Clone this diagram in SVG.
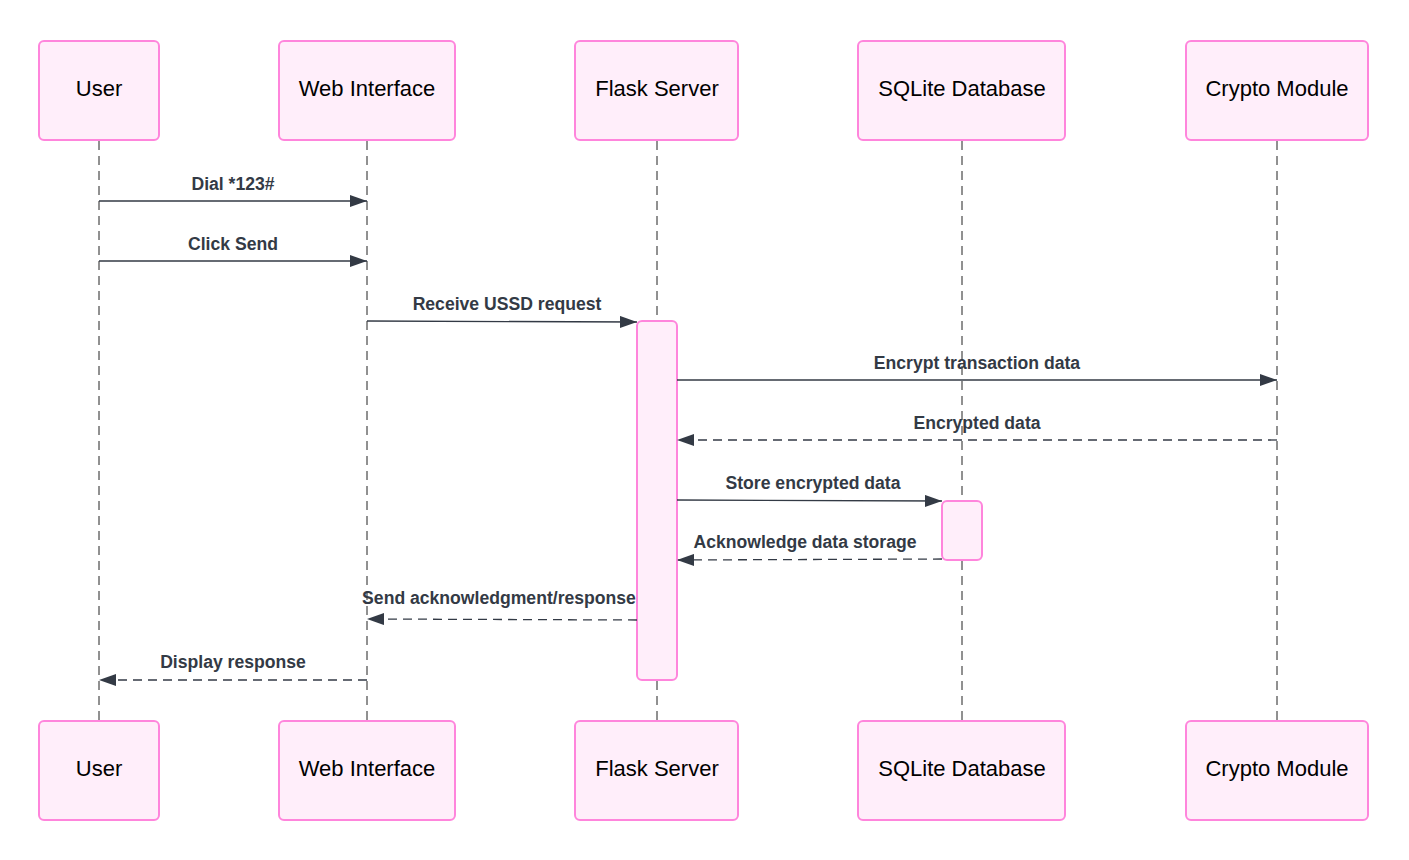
<svg xmlns="http://www.w3.org/2000/svg" width="1409" height="860" viewBox="0 0 1409 860">
<style>
.box{fill:#ffeefa;stroke:#ff85dc;stroke-width:2}
.act{fill:#ffeefa;stroke:#ff85dc;stroke-width:2}
.name{font-family:"Liberation Sans",Arial,sans-serif;font-size:22px;fill:#000;text-anchor:middle}
.life{stroke:#222;stroke-width:1;stroke-dasharray:9,6;fill:none}
.msg{stroke:#333a45;stroke-width:1.3;fill:none}
.ret{stroke:#333a45;stroke-width:1.3;fill:none;stroke-dasharray:9,6}
.lbl{font-family:"Liberation Sans",Arial,sans-serif;font-size:17.6px;font-weight:bold;fill:#333a45;text-anchor:middle}
</style>
<defs>
<marker id="ah" markerWidth="18" markerHeight="12" refX="17" refY="6" orient="auto" markerUnits="userSpaceOnUse">
<path d="M0,0 L17,6 L0,12 Z" fill="#333a45"/>
</marker>
</defs>
<g id="lifelines">
<line class="life" x1="99" y1="141" x2="99" y2="720"/>
<line class="life" x1="367" y1="141" x2="367" y2="720"/>
<line class="life" x1="657" y1="141" x2="657" y2="720"/>
<line class="life" x1="962" y1="141" x2="962" y2="720"/>
<line class="life" x1="1277" y1="141" x2="1277" y2="720"/>
</g>
<g id="user-top"><rect class="box" x="39" y="41" width="120" height="99" rx="5"/><text class="name" x="99" y="96">User</text></g>
<g id="web-top"><rect class="box" x="279" y="41" width="176" height="99" rx="5"/><text class="name" x="367" y="96">Web Interface</text></g>
<g id="flask-top"><rect class="box" x="575" y="41" width="163" height="99" rx="5"/><text class="name" x="657" y="96">Flask Server</text></g>
<g id="sqlite-top"><rect class="box" x="858" y="41" width="207" height="99" rx="5"/><text class="name" x="962" y="96">SQLite Database</text></g>
<g id="crypto-top"><rect class="box" x="1186" y="41" width="182" height="99" rx="5"/><text class="name" x="1277" y="96">Crypto Module</text></g>
<g id="user-bottom"><rect class="box" x="39" y="721" width="120" height="99" rx="5"/><text class="name" x="99" y="776">User</text></g>
<g id="web-bottom"><rect class="box" x="279" y="721" width="176" height="99" rx="5"/><text class="name" x="367" y="776">Web Interface</text></g>
<g id="flask-bottom"><rect class="box" x="575" y="721" width="163" height="99" rx="5"/><text class="name" x="657" y="776">Flask Server</text></g>
<g id="sqlite-bottom"><rect class="box" x="858" y="721" width="207" height="99" rx="5"/><text class="name" x="962" y="776">SQLite Database</text></g>
<g id="crypto-bottom"><rect class="box" x="1186" y="721" width="182" height="99" rx="5"/><text class="name" x="1277" y="776">Crypto Module</text></g>
<g id="flask-activation"><rect class="act" x="637" y="321" width="40" height="359" rx="5"/></g>
<g id="sqlite-activation"><rect class="act" x="942" y="501" width="40" height="59" rx="5"/></g>
<g id="connectors">
<line class="msg" x1="99" y1="201" x2="367" y2="201" marker-end="url(#ah)"/>
<text class="lbl" x="233" y="190">Dial *123#</text>
<line class="msg" x1="99" y1="261" x2="367" y2="261" marker-end="url(#ah)"/>
<text class="lbl" x="233" y="250">Click Send</text>
<line class="msg" x1="367" y1="321" x2="637" y2="322" marker-end="url(#ah)"/>
<text class="lbl" x="507" y="310">Receive USSD request</text>
<line class="msg" x1="677" y1="380" x2="1277" y2="380" marker-end="url(#ah)"/>
<text class="lbl" x="977" y="369">Encrypt transaction data</text>
<line class="ret" x1="1277" y1="440" x2="677" y2="440" marker-end="url(#ah)"/>
<text class="lbl" x="977" y="429">Encrypted data</text>
<line class="msg" x1="677" y1="500" x2="942" y2="501" marker-end="url(#ah)"/>
<text class="lbl" x="813" y="489">Store encrypted data</text>
<line class="ret" x1="942" y1="559" x2="677" y2="560" marker-end="url(#ah)"/>
<text class="lbl" x="805" y="548">Acknowledge data storage</text>
<line class="ret" x1="637" y1="620" x2="367" y2="619" marker-end="url(#ah)"/>
<text class="lbl" x="499" y="604">Send acknowledgment/response</text>
<line class="ret" x1="367" y1="680" x2="99" y2="680" marker-end="url(#ah)"/>
<text class="lbl" x="233" y="668">Display response</text>
</g>
</svg>
